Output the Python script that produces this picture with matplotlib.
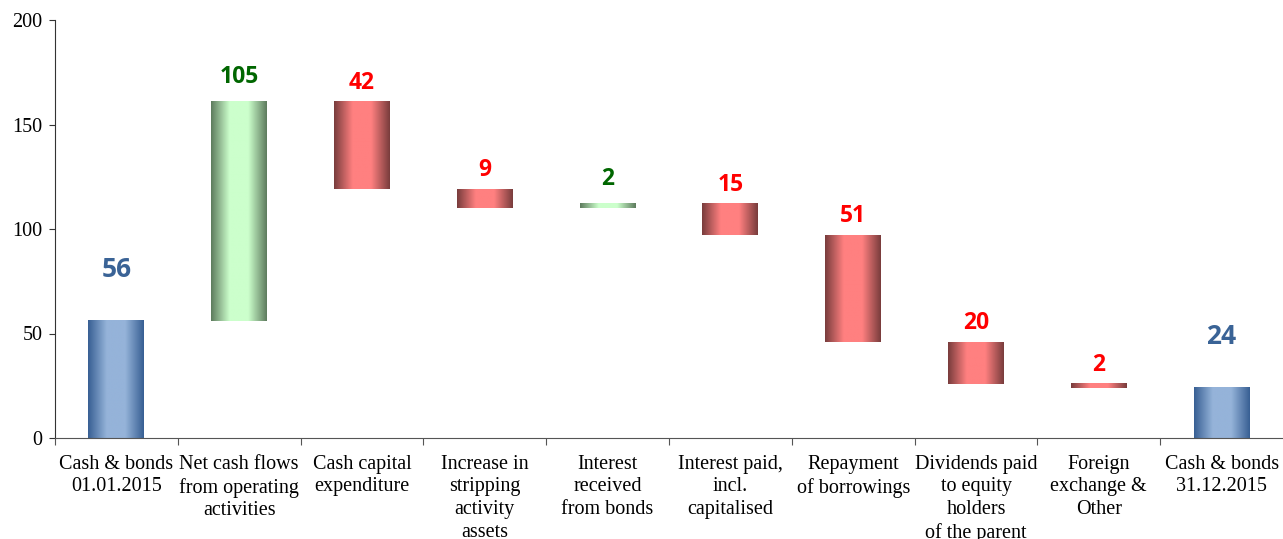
import numpy as np
import matplotlib
matplotlib.use("Agg")
import matplotlib.pyplot as plt
from matplotlib.colors import LinearSegmentedColormap

categories = ["Cash & bonds\n01.01.2015", "Net cash flows\nfrom operating\nactivities",
              "Cash capital\nexpenditure", "Increase in\nstripping\nactivity\nassets",
              "Interest\nreceived\nfrom bonds", "Interest paid,\nincl.\ncapitalised",
              "Repayment\nof borrowings", "Dividends paid\nto equity\nholders\nof the parent",
              "Foreign\nexchange &\nOther", "Cash & bonds\n31.12.2015"]
values = [56, 105, -42, -9, 2, -15, -51, -20, -2, 24]
kinds = ["total", "delta", "delta", "delta", "delta", "delta", "delta", "delta", "delta", "total"]
y_ticks = [0, 50, 100, 150, 200]

cmaps = {
    "blue": LinearSegmentedColormap.from_list("b", ["#375f93", "#95b3d9", "#95b3d9", "#375f93"], N=256),
    "green": LinearSegmentedColormap.from_list("g", ["#5d7b5d", "#ccffcc", "#ccffcc", "#5d7b5d"], N=256),
    "red": LinearSegmentedColormap.from_list("r", ["#783c3c", "#ff8080", "#ff8080", "#783c3c"], N=256),
}
label_colors = {"blue": "#3a6396", "green": "#006600", "red": "#ff0000"}
label_offsets = {"blue": 27, "green": 9, "red": 5}

fig = plt.figure(figsize=(12.83, 5.39), dpi=100)
ax = fig.add_axes([55/1283, 1-438/539, 1-55/1283, (438-20)/539])

grad = np.linspace(0, 1, 256).reshape(1, -1)
width = 0.455
running = 0
for i, (v, k) in enumerate(zip(values, kinds)):
    if k == "total":
        bottom, top = 0, v
        running = v
        key = "blue"
    else:
        if v >= 0:
            bottom, top = running, running + v
            key = "green"
        else:
            bottom, top = running + v, running
            key = "red"
        running += v
    x0, x1 = i - width/2, i + width/2
    ax.imshow(grad, extent=(x0, x1, bottom, top), aspect="auto", cmap=cmaps[key],
              interpolation="bilinear", zorder=2)
    fs = 19 if key == "blue" else 16.5
    ax.annotate(f"{abs(v)}", (i, top), xytext=(0, label_offsets[key]), textcoords="offset points",
                ha="center", va="bottom", fontsize=fs, fontweight="bold",
                color=label_colors[key], family="Open Sans")

ax.set_xlim(-0.5, len(values) - 0.5)
ax.set_ylim(0, 200)
ax.set_yticks(y_ticks)
ax.set_yticklabels([str(t) for t in y_ticks], family="Liberation Serif", fontsize=14.5)
ax.set_xticks(np.arange(len(values)) - 0.5, minor=False)
ax.set_xticklabels([])
ax.set_xticks(np.arange(len(values)), minor=True)
ax.set_xticklabels(categories, minor=True, family="Liberation Serif", fontsize=14.5,
                   linespacing=1.27, va="top", ha="center")
ax.tick_params(axis="x", which="minor", length=0, pad=12)
ax.tick_params(axis="x", which="major", length=5, direction="out", color="#555555")
ax.tick_params(axis="y", length=4, direction="out", color="#333333", pad=5)
ax.spines["top"].set_visible(False)
ax.spines["right"].set_visible(False)
ax.spines["left"].set_color("#333333")
ax.spines["bottom"].set_color("#555555")

fig.savefig("out.png", dpi=100)
